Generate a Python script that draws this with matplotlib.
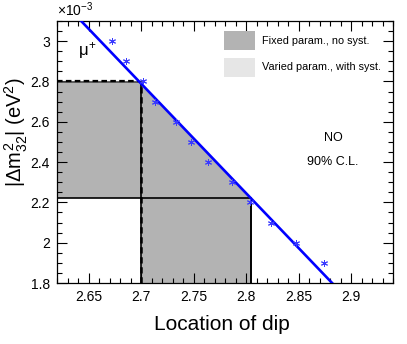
import matplotlib
matplotlib.use("Agg")
import matplotlib.pyplot as plt
from matplotlib.patches import Polygon, Rectangle
from matplotlib.ticker import MultipleLocator, FuncFormatter

plt.rcParams['font.family'] = ['Liberation Sans', 'DejaVu Sans']
plt.rcParams['mathtext.fontset'] = 'custom'
plt.rcParams['mathtext.rm'] = 'Liberation Sans'
plt.rcParams['mathtext.it'] = 'Liberation Sans'
plt.rcParams['mathtext.bf'] = 'Liberation Sans:bold'

# data (dm^2 in units of 1e-3 eV^2)
dip_points = [2.672, 2.686, 2.702, 2.713, 2.733, 2.748, 2.764, 2.787, 2.804, 2.824, 2.848, 2.874]
dm_points = [3.0, 2.9, 2.8, 2.7, 2.6, 2.5, 2.4, 2.3, 2.2, 2.1, 2.0, 1.9]
fit_dip = [2.643, 2.882]
fit_dm = [3.1, 1.8]
fixed_dip_range = [2.700, 2.805]
fixed_dm_range = [2.222, 2.795]
varied_dip_lo = 2.700
varied_dm_hi = 2.800
legend_labels = ["Fixed param., no syst.", "Varied param., with syst."]
xticks = [2.65, 2.7, 2.75, 2.8, 2.85, 2.9]

W, H = 407, 344
fig = plt.figure(figsize=(W/100, H/100), dpi=100)
ax = fig.add_axes([57/W, 1-283/H, (393-57)/W, (283-21)/H])
xmin, xmax, ymin, ymax = 2.62, 2.94, 1.8, 3.1
ax.set_xlim(xmin, xmax)
ax.set_ylim(ymin, ymax)

slope = (fit_dm[1]-fit_dm[0])/(fit_dip[1]-fit_dip[0])
def line_y(x):
    return fit_dm[0] + slope*(x-fit_dip[0])
def line_x(y):
    return fit_dip[0] + (y-fit_dm[0])/slope

# fixed-parameter region: union of two bands clipped by fit line
x_top = line_x(fixed_dm_range[1])
poly = [(xmin, fixed_dm_range[0]), (xmin, fixed_dm_range[1]), (x_top, fixed_dm_range[1]),
        (fixed_dip_range[1], line_y(fixed_dip_range[1])), (fixed_dip_range[1], ymin),
        (fixed_dip_range[0], ymin), (fixed_dip_range[0], fixed_dm_range[0])]
ax.add_patch(Polygon(poly, closed=True, facecolor='#b3b3b3', edgecolor='none', zorder=1))

# outlines
lc = 'black'
ax.plot([xmin, x_top], [fixed_dm_range[1]]*2, color='#444444', lw=1.2, zorder=2)
ax.plot([xmin, line_x(varied_dm_hi)], [varied_dm_hi]*2, color=lc, lw=1.6, ls=(0, (2.5, 1.5)), zorder=3)
ax.plot([fixed_dip_range[0]]*2, [ymin, fixed_dm_range[1]], color=lc, lw=1.2, zorder=2)
ax.plot([varied_dip_lo]*2, [ymin, line_y(varied_dip_lo)], color=lc, lw=1.8, ls=(0, (2.5, 1.5)), zorder=3)
ax.plot([xmin, fixed_dip_range[1]], [fixed_dm_range[0]]*2, color=lc, lw=1.2, zorder=2)
ax.plot([fixed_dip_range[1]]*2, [ymin, line_y(fixed_dip_range[1])], color=lc, lw=1.4, zorder=2)

# fit line and points
ax.plot(fit_dip, fit_dm, color='#0000ff', lw=1.9, zorder=4)
ax.plot(dip_points, dm_points, ls='none', marker=(6, 2, 0), ms=5, mew=0.7,
        color='#3a3aff', zorder=5)

# ticks
ax.xaxis.set_minor_locator(MultipleLocator(0.01))
ax.yaxis.set_major_locator(MultipleLocator(0.2))
ax.yaxis.set_minor_locator(MultipleLocator(0.05))
ax.set_xticks(xticks)
ax.set_xticklabels([f"{v:g}" for v in xticks])
ax.yaxis.set_major_formatter(FuncFormatter(lambda v, p: f"{v:.1f}".rstrip('0').rstrip('.')))
ax.tick_params(which='both', direction='in', top=True, right=True, labelsize=10, colors='black')
ax.tick_params(which='major', length=7, width=0.8, pad=5)
ax.tick_params(which='minor', length=3.5, width=0.8)
for s in ax.spines.values():
    s.set_linewidth(0.9)

# texts
def ft(x, y, s, **kw):
    fig.text(x/W, 1-y/H, s, **kw)

ft(57, 10, r"$\times$10$^{-3}$", fontsize=10, ha='left', va='center')
ft(87, 50, r"$\mu^{+}$", fontsize=12, ha='center', va='center')
ft(333, 138, "NO", fontsize=9, ha='center', va='center')
ft(333, 162, "90% C.L.", fontsize=9, ha='center', va='center')
ft(16, 132, r"$|\Delta m^{2}_{32}|$ (eV$^{2}$)", fontsize=14.5, rotation=90, ha='center', va='center')
ft(222, 325, "Location of dip", fontsize=15, ha='center', va='center')

# legend
for i, (lab, col) in enumerate(zip(legend_labels, ['#b3b3b3', '#e6e6e6'])):
    y0 = 31 + i*27
    fig.patches.append(Rectangle((224/W, 1-(y0+19)/H), 31/W, 19/H, transform=fig.transFigure,
                                 facecolor=col, edgecolor='none'))
    ft(262, y0+9.5, lab, fontsize=7.8, ha='left', va='center')

fig.savefig("out.png", dpi=100)
